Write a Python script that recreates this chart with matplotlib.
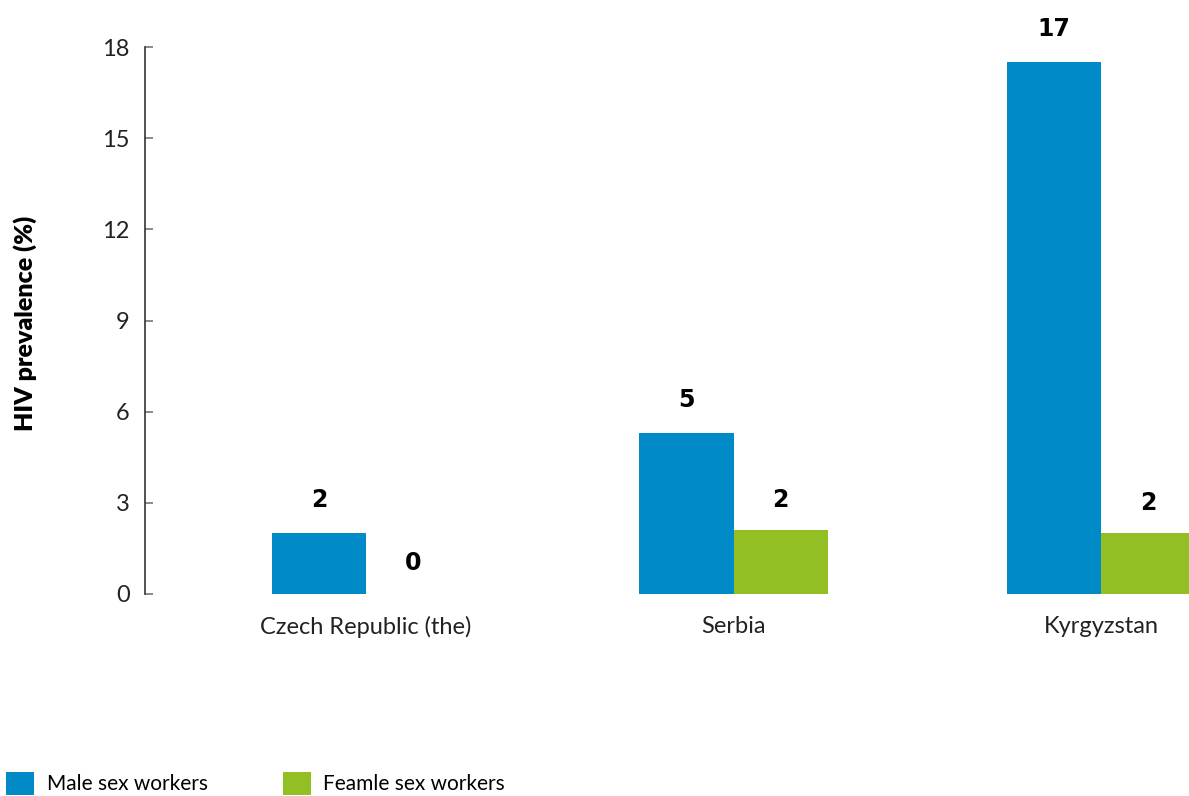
import matplotlib.pyplot as plt
import numpy as np

# Data
countries = ["Czech Republic (the)", "Serbia", "Kyrgyzstan"]
male = [2.0, 5.3, 17.5]
female = [0.0, 2.1, 2.0]
male_labels = ["2", "5", "17"]
female_labels = ["0", "2", "2"]
series_names = ["Male sex workers", "Feamle sex workers"]
yticks = [0, 3, 6, 9, 12, 15, 18]

blue = "#008AC8"
green = "#92BF23"

plt.rcParams['font.family'] = ['Lato', 'DejaVu Sans']

fig = plt.figure(figsize=(11.89, 7.96), dpi=100)
ax = fig.add_axes([145 / 1189, 1 - 594 / 796, 1 - 145 / 1189, (594 - 47) / 796])

x = np.arange(len(countries))
w = 0.256
b1 = ax.bar(x - w / 2, male, w, color=blue, label=series_names[0])
b2 = ax.bar(x + w / 2, female, w, color=green, label=series_names[1])

# value labels above bars
for xi, v, t in zip(x - w / 2, male, male_labels):
    ax.annotate(t, (xi, v), xytext=(0, 24), textcoords="offset points",
                ha="center", va="center", fontsize=17, fontweight="bold",
                family="DejaVu Sans", annotation_clip=False)
for xi, v, t in zip(x + w / 2, female, female_labels):
    ax.annotate(t, (xi, v), xytext=(0, 22), textcoords="offset points",
                ha="center", va="center", fontsize=17, fontweight="bold",
                family="DejaVu Sans", annotation_clip=False)

ax.set_xlim(-0.601, 2.239)
ax.set_ylim(0, 18)
ax.set_yticks(yticks)
ax.set_xticks(x)
ax.set_xticklabels(countries, fontsize=17, color="#222222")
ax.tick_params(axis="x", length=0, pad=16)
ax.tick_params(axis="y", direction="in", length=6, width=1.2, color="#777777",
               labelsize=17, labelcolor="#222222", pad=11)

for s in ["top", "right", "bottom"]:
    ax.spines[s].set_visible(False)
ax.spines["left"].set_color("#333333")
ax.spines["left"].set_linewidth(1.2)

fig.text(25 / 1189, 1 - 323 / 796, "HIV prevalence (%)", rotation=90,
         ha="center", va="center", fontsize=18, fontweight="heavy")

fig.legend(handles=[b1, b2], labels=series_names, loc="lower left",
           bbox_to_anchor=(6 / 1189, 0.001), ncol=2, frameon=False,
           fontsize=15, handlelength=1.35, handleheight=1.35,
           handletextpad=0.6, columnspacing=3.6, borderpad=0, borderaxespad=0)

fig.savefig("out.png", dpi=100)
